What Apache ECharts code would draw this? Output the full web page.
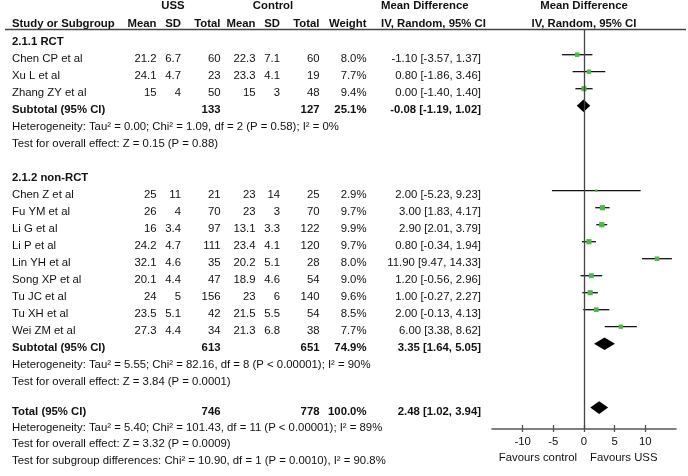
<!DOCTYPE html>
<html><head><meta charset="utf-8">
<script src="https://cdn.jsdelivr.net/npm/echarts@6/dist/echarts.min.js"></script>
<style>html,body{margin:0;padding:0;background:#fff}#c{width:688px;height:476px}</style>
</head><body><div id="c"></div>
<script>
// ---------- data ----------
const groupNames = ['2.1.1 RCT', '2.1.2 non-RCT'];
const studyGroup = [0, 0, 0, 1, 1, 1, 1, 1, 1, 1, 1, 1];
const studies = ['Chen CP et al', 'Xu L et al', 'Zhang ZY et al',
  'Chen Z et al', 'Fu YM et al', 'Li G et al', 'Li P et al', 'Lin YH et al',
  'Song XP et al', 'Tu JC et al', 'Tu XH et al', 'Wei ZM et al'];
const ussMean = [21.2, 24.1, 15, 25, 26, 16, 24.2, 32.1, 20.1, 24, 23.5, 27.3];
const ussSD   = [6.7, 4.7, 4, 11, 4, 3.4, 4.7, 4.6, 4.4, 5, 5.1, 4.4];
const ussN    = [60, 23, 50, 21, 70, 97, 111, 35, 47, 156, 42, 34];
const ctlMean = [22.3, 23.3, 15, 23, 23, 13.1, 23.4, 20.2, 18.9, 23, 21.5, 21.3];
const ctlSD   = [7.1, 4.1, 3, 14, 3, 3.3, 4.1, 5.1, 4.6, 6, 5.5, 6.8];
const ctlN    = [60, 19, 48, 25, 70, 122, 120, 28, 54, 140, 54, 38];
const weights = [8.0, 7.7, 9.4, 2.9, 9.7, 9.9, 9.7, 8.0, 9.0, 9.6, 8.5, 7.7];
const md      = [-1.10, 0.80, 0.00, 2.00, 3.00, 2.90, 0.80, 11.90, 1.20, 1.00, 2.00, 6.00];
const ciLow   = [-3.57, -1.86, -1.40, -5.23, 1.83, 2.01, -0.34, 9.47, -0.56, -0.27, -0.13, 3.38];
const ciHigh  = [1.37, 3.46, 1.40, 9.23, 4.17, 3.79, 1.94, 14.33, 2.96, 2.27, 4.13, 8.62];
// subtotals per group
const subUssN = [133, 613];
const subCtlN = [127, 651];
const subWeight = [25.1, 74.9];
const subMd = [-0.08, 3.35];
const subLow = [-1.19, 1.64];
const subHigh = [1.02, 5.05];
const subHet = ['Heterogeneity: Tau² = 0.00; Chi² = 1.09, df = 2 (P = 0.58); I² = 0%',
  'Heterogeneity: Tau² = 5.55; Chi² = 82.16, df = 8 (P < 0.00001); I² = 90%'];
const subTest = ['Test for overall effect: Z = 0.15 (P = 0.88)',
  'Test for overall effect: Z = 3.84 (P = 0.0001)'];
// total
const totUssN = 746, totCtlN = 778, totWeight = 100.0;
const totMd = 2.48, totLow = 1.02, totHigh = 3.94;
const totNotes = ['Heterogeneity: Tau² = 5.40; Chi² = 101.43, df = 11 (P < 0.00001); I² = 89%',
  'Test for overall effect: Z = 3.32 (P = 0.0009)',
  'Test for subgroup differences: Chi² = 10.90, df = 1 (P = 0.0010), I² = 90.8%'];
const xTicks = [-10, -5, 0, 5, 10];
const favours = ['Favours control', 'Favours USS'];

// ---------- layout ----------
const FONT = "'Liberation Sans', Arial, Helvetica, sans-serif";
const FS = 11.35;
const INK = '#111';
const ROW0 = 41.7, STEP = 17, MOFF = -4;
const GTOP = 29, GH = 400;
const rowY = s => ROW0 + STEP * s;
const COL = {name: 12, um: 156.5, us: 181, un: 220.5, cm: 255.5, cs: 280, cn: 319.5, w: 366.5, ci: 481, mdh: 381, plot: 584};

const g = [];
function txt(s, x, y, align, bold) {
  g.push({type: 'text', silent: true, style: {text: String(s), x: x, y: y, align: align, verticalAlign: 'middle',
    fontSize: FS, fontFamily: FONT, fontWeight: bold ? 'bold' : 'normal', fill: INK}});
}
const ci = (m, l, h) => m.toFixed(2) + ' [' + l.toFixed(2) + ', ' + h.toFixed(2) + ']';

// headers
txt('USS', 173, 6, 'center', true);
txt('Control', 273, 6, 'center', true);
txt('Mean Difference', COL.mdh, 6, 'left', true);
txt('Mean Difference', COL.plot, 6, 'center', true);
txt('Study or Subgroup', COL.name, 24, 'left', true);
txt('Mean', COL.um, 24, 'right', true);
txt('SD', COL.us, 24, 'right', true);
txt('Total', COL.un, 24, 'right', true);
txt('Mean', COL.cm, 24, 'right', true);
txt('SD', COL.cs, 24, 'right', true);
txt('Total', COL.cn, 24, 'right', true);
txt('Weight', COL.w, 24, 'right', true);
txt('IV, Random, 95% CI', COL.mdh, 24, 'left', true);
txt('IV, Random, 95% CI', COL.plot, 24, 'center', true);
g.push({type: 'line', silent: true, shape: {x1: 5, y1: 29.5, x2: 686, y2: 29.5}, style: {stroke: '#444', lineWidth: 1.5}});

const studyPts = [];
const diamonds = [];
let slot = 0;
groupNames.forEach((gn, gi) => {
  txt(gn, COL.name, rowY(slot), 'left', true);
  slot++;
  studies.forEach((s, i) => {
    if (studyGroup[i] !== gi) return;
    const y = rowY(slot);
    txt(s, COL.name, y, 'left');
    txt(ussMean[i], COL.um, y, 'right');
    txt(ussSD[i], COL.us, y, 'right');
    txt(ussN[i], COL.un, y, 'right');
    txt(ctlMean[i], COL.cm, y, 'right');
    txt(ctlSD[i], COL.cs, y, 'right');
    txt(ctlN[i], COL.cn, y, 'right');
    txt(weights[i].toFixed(1) + '%', COL.w, y, 'right');
    txt(ci(md[i], ciLow[i], ciHigh[i]), COL.ci, y, 'right');
    studyPts.push([ciLow[i], ciHigh[i], md[i], slot, weights[i]]);
    slot++;
  });
  let y = rowY(slot);
  txt('Subtotal (95% CI)', COL.name, y, 'left', true);
  txt(subUssN[gi], COL.un, y, 'right', true);
  txt(subCtlN[gi], COL.cn, y, 'right', true);
  txt(subWeight[gi].toFixed(1) + '%', COL.w, y, 'right', true);
  txt(ci(subMd[gi], subLow[gi], subHigh[gi]), COL.ci, y, 'right', true);
  diamonds.push([subLow[gi], subHigh[gi], subMd[gi], slot]);
  slot++;
  txt(subHet[gi], COL.name, rowY(slot), 'left'); slot++;
  txt(subTest[gi], COL.name, rowY(slot), 'left'); slot++;
  if (gi < groupNames.length - 1) slot++;
});
// final block (slightly tighter spacing)
const FSTEP = 16.3 / STEP;
let fs = slot + 0.76;
let y = rowY(fs);
txt('Total (95% CI)', COL.name, y, 'left', true);
txt(totUssN, COL.un, y, 'right', true);
txt(totCtlN, COL.cn, y, 'right', true);
txt(totWeight.toFixed(1) + '%', COL.w, y, 'right', true);
txt(ci(totMd, totLow, totHigh), COL.ci, y, 'right', true);
diamonds.push([totLow, totHigh, totMd, fs]);
totNotes.forEach((n, k) => txt(n, COL.name, rowY(fs + FSTEP * (k + 1)), 'left'));
txt(favours[0], 577, 457.7, 'right');
txt(favours[1], 590, 457.7, 'left');

const yMin = (GTOP - ROW0 - MOFF) / STEP;
const yMax = yMin + GH / STEP;

const chart = echarts.init(document.getElementById('c'), null, {renderer: 'canvas'});
chart.setOption({
  animation: false,
  backgroundColor: '#fff',
  grid: {left: 492, right: 12, top: GTOP, height: GH, containLabel: false},
  xAxis: [{
    type: 'value', min: -15, max: 15, interval: 5, position: 'bottom',
    splitLine: {show: false},
    axisLine: {onZero: false, lineStyle: {color: '#555', width: 1.5}},
    axisTick: {inside: true, length: 4, lineStyle: {color: '#555', width: 1.3}, customValues: xTicks},
    axisLabel: {customValues: xTicks, margin: 7, color: INK, fontSize: FS, fontFamily: FONT}
  }, {
    type: 'value', min: -15, max: 15, interval: 5, position: 'bottom', offset: 0,
    splitLine: {show: false},
    axisLine: {show: false, onZero: false},
    axisTick: {inside: false, length: 3, lineStyle: {color: '#555', width: 1.3}, customValues: xTicks},
    axisLabel: {show: false}
  }],
  yAxis: {type: 'value', inverse: true, min: yMin, max: yMax, show: false},
  graphic: {elements: g},
  series: [{
    type: 'custom',
    silent: true,
    data: studyPts,
    encode: {x: [0, 1, 2], y: 3},
    renderItem: function (params, api) {
      const a = api.coord([api.value(0), api.value(3)]);
      const b = api.coord([api.value(1), api.value(3)]);
      const c = api.coord([api.value(2), api.value(3)]);
      const sz = 1.3 + api.value(4) * 0.4;
      return {type: 'group', children: [
        {type: 'line', shape: {x1: a[0], y1: a[1], x2: b[0], y2: b[1]}, style: {stroke: '#111', lineWidth: 1.3}},
        {type: 'rect', shape: {x: c[0] - sz / 2, y: c[1] - sz / 2, width: sz, height: sz}, style: {fill: '#4cb84c'}}
      ]};
    },
    markLine: {silent: true, symbol: 'none', label: {show: false},
      lineStyle: {color: '#444', width: 1.3, type: 'solid'}, data: [{xAxis: 0}]}
  }, {
    type: 'custom',
    silent: true,
    data: diamonds,
    encode: {x: [0, 1, 2], y: 3},
    renderItem: function (params, api) {
      const l = api.coord([api.value(0), api.value(3)]);
      const h = api.coord([api.value(1), api.value(3)]);
      const m = api.coord([api.value(2), api.value(3)]);
      const hh = 6.3;
      return {type: 'polygon', shape: {points: [[l[0], l[1]], [m[0], m[1] - hh], [h[0], h[1]], [m[0], m[1] + hh]]},
        style: {fill: '#000'}};
    }
  }]
});
</script></body></html>
